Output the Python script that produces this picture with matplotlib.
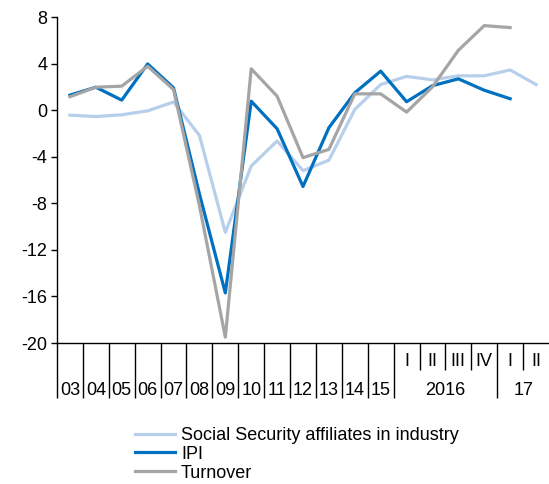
import matplotlib
matplotlib.use("Agg")
import matplotlib.pyplot as plt
import numpy as np

plt.rcParams["font.family"] = ["Liberation Sans", "DejaVu Sans"]
plt.rcParams["axes.unicode_minus"] = False

# -----------------------------
# Data
# -----------------------------
years = ["03", "04", "05", "06", "07", "08", "09", "10", "11", "12", "13", "14", "15"]
quarters = ["I", "II", "III", "IV", "I", "II"]
quarter_years = ["2016", "17"]

affiliates = [-0.43, -0.55, -0.4, -0.06, 0.7, -2.17, -10.5, -4.8, -2.65, -5.2, -4.3, 0.06,
              2.2, 2.9, 2.6, 2.95, 2.95, 3.45, 2.2]
ipi = [1.29, 1.97, 0.86, 3.97, 1.92, -7.2, -15.7, 0.77, -1.6, -6.56, -1.51, 1.49,
       3.35, 0.72, 2.1, 2.69, 1.71, 0.98, np.nan]
turnover = [1.15, 1.97, 2.06, 3.77, 1.77, -8.2, -19.5, 3.55, 1.2, -4.08, -3.37, 1.4,
            1.4, -0.17, 2.0, 5.14, 7.26, 7.09, np.nan]

FS = 13
n = len(affiliates)
x = np.arange(n)

fig = plt.figure(figsize=(5.49, 4.84), dpi=100)
ax = fig.add_axes([57 / 549, (484 - 343) / 484, 492 / 549, 326 / 484])

ax.plot(x, affiliates, color="#B7CFEA", lw=2.3, label="Social Security affiliates in industry")
ax.plot(x, ipi, color="#0070C0", lw=2.3, label="IPI")
ax.plot(x, turnover, color="#A5A5A5", lw=2.3, label="Turnover")

ax.set_xlim(-0.5, n - 0.5)
ax.set_ylim(-20, 8)
ax.set_yticks(np.arange(-20, 9, 4))
ax.tick_params(axis="y", labelsize=FS, length=4, width=1, direction="out", pad=3)

for s in ["top", "right"]:
    ax.spines[s].set_visible(False)
ax.spines["left"].set_linewidth(1)
ax.spines["bottom"].set_linewidth(1)

# category separators: long for years, short for quarters
long_b = list(np.arange(len(years) + 1) - 0.5) + [len(years) + 4 - 0.5]
short_b = [len(years) + 0.5, len(years) + 1.5, len(years) + 2.5, len(years) + 4.5]
ax.set_xticks(long_b)
ax.set_xticks(short_b, minor=True)
ax.set_xticklabels([])
ax.tick_params(axis="x", which="major", length=39.5, width=1, direction="out")
ax.tick_params(axis="x", which="minor", length=19.5, width=1, direction="out")

tr = ax.get_xaxis_transform()
for i, lab in enumerate(years):
    ax.text(i, -0.145, lab, transform=tr, ha="center", va="center", fontsize=FS)
for i, lab in enumerate(quarters):
    ax.text(len(years) + i, -0.058, lab, transform=tr, ha="center", va="center", fontsize=FS)
ax.text(len(years) + 1.5, -0.145, quarter_years[0], transform=tr, ha="center", va="center", fontsize=FS)
ax.text(len(years) + 4.5, -0.145, quarter_years[1], transform=tr, ha="center", va="center", fontsize=FS)

fig.legend(loc="upper left", bbox_to_anchor=(135 / 549, 1 - 427 / 484), frameon=False,
           fontsize=FS, handlelength=2.2, handletextpad=0.35, labelspacing=0.1,
           borderpad=0, borderaxespad=0)

fig.savefig("out.png", dpi=100)
